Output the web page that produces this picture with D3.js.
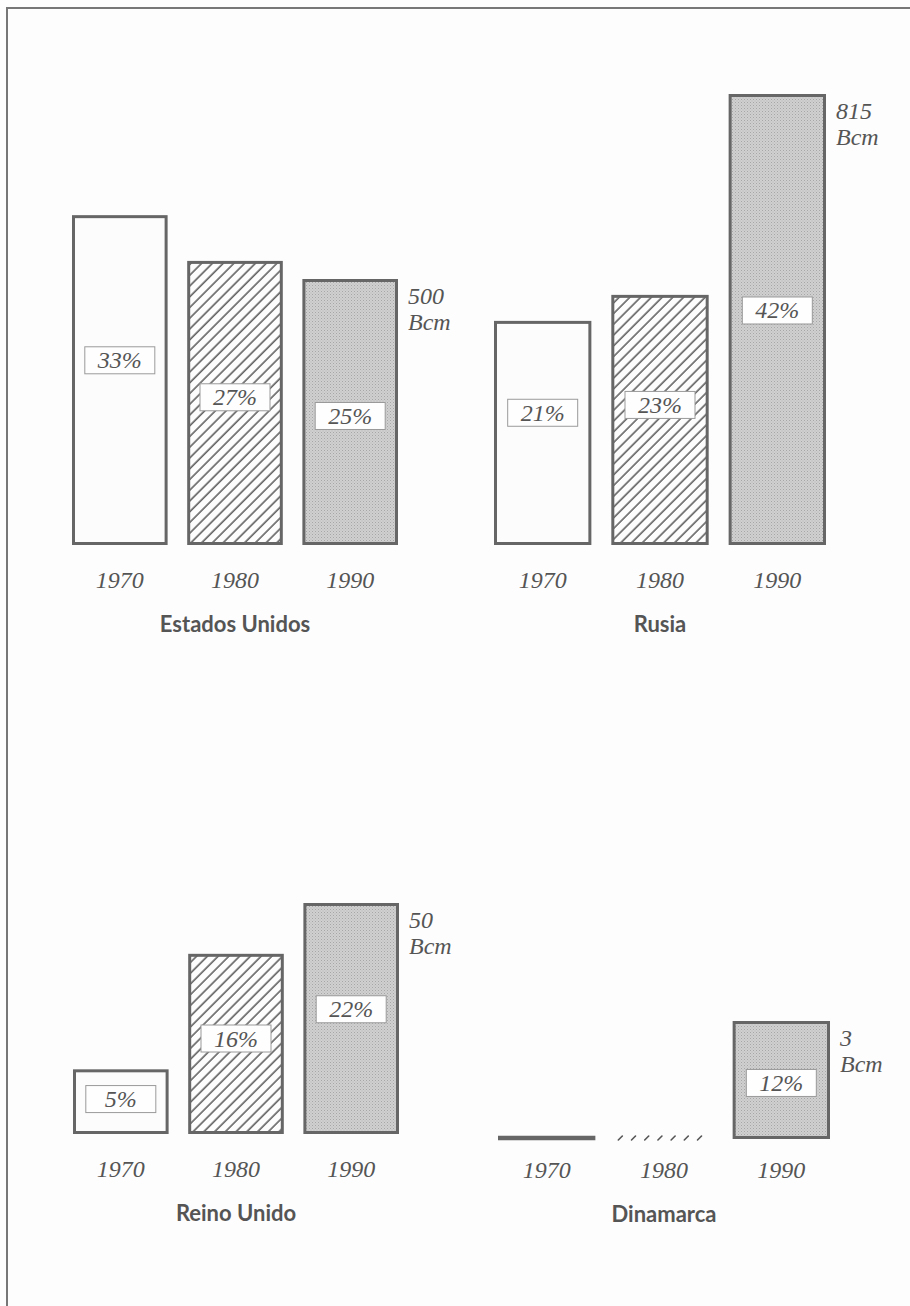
<!DOCTYPE html>
<html>
<head>
<meta charset="utf-8">
<script src="https://cdn.jsdelivr.net/npm/d3@7"></script>
<style>
  html, body { margin: 0; padding: 0; background: #fdfdfd; }
  svg { display: block; }
</style>
</head>
<body>
<svg id="chart" width="910" height="1306"></svg>
<script>
// Consumo de gas natural por país (Bcm) y participación en el consumo de energía primaria
const years = ["1970", "1980", "1990"];
const countries = ["Estados Unidos", "Rusia", "Reino Unido", "Dinamarca"];

const usaBcm        = [620, 534, 500];
const rusiaBcm      = [405, 452, 815];
const reinoUnidoBcm = [14, 39, 50];
const dinamarcaBcm  = [0, 0, 3];

const usaShare        = [33, 27, 25];
const rusiaShare      = [21, 23, 42];
const reinoUnidoShare = [5, 16, 22];
const dinamarcaShare  = [null, null, 12];

const seriesBcm = [usaBcm, rusiaBcm, reinoUnidoBcm, dinamarcaBcm];
const seriesShare = [usaShare, rusiaShare, reinoUnidoShare, dinamarcaShare];

// Panel layout: horizontal extent, bar baseline, the y reached by the 1990 value,
// and the reference line for the year / country labels
const panelLayout = [
  { x0: 72,  x1: 398, base: 545,  top: 279,  labels: 545 },
  { x0: 494, x1: 826, base: 545,  top: 94,   labels: 545 },
  { x0: 73,  x1: 399, base: 1134, top: 903,  labels: 1134 },
  { x0: 498, x1: 830, base: 1139, top: 1021, labels: 1135 }
];
// Where each percentage tag sits, as a fraction of the bar height from its top
const tagPlacement = [
  [0.44, 0.48, 0.515],
  [0.41, 0.44, 0.48],
  [0.46, 0.47, 0.46],
  [0.5, 0.5, 0.525]
];

const svg = d3.select("#chart");
const INK = "#666";
const TEXT = "#555";
const SERIF = "'Liberation Serif', 'DejaVu Serif', serif";
const SANS = "Lato, 'Open Sans', 'DejaVu Sans', sans-serif";

// Fill patterns: plain, diagonal hatch, stippled grey
const defs = svg.append("defs");
const hatch = defs.append("pattern")
  .attr("id", "hatch").attr("patternUnits", "userSpaceOnUse")
  .attr("width", 7.6).attr("height", 7.6)
  .attr("patternTransform", "rotate(45)");
hatch.append("rect").attr("width", 7.6).attr("height", 7.6).attr("fill", "#fdfdfd");
hatch.append("line").attr("x1", 2).attr("y1", 0).attr("x2", 2).attr("y2", 7.6)
  .attr("stroke", "#4a4a4a").attr("stroke-width", 1.4);

const stipple = defs.append("pattern")
  .attr("id", "stipple").attr("patternUnits", "userSpaceOnUse")
  .attr("width", 3).attr("height", 3);
stipple.append("rect").attr("width", 3).attr("height", 3).attr("fill", "#d0d0d0");
stipple.append("rect").attr("x", 0).attr("y", 0).attr("width", 1).attr("height", 1).attr("fill", "#a6a6a6");
stipple.append("rect").attr("x", 1.5).attr("y", 1.5).attr("width", 1).attr("height", 1).attr("fill", "#b6b6b6");

const fills = ["#fcfcfc", "url(#hatch)", "url(#stipple)"];

// Page frame (left and top rules)
svg.append("line").attr("x1", 7).attr("y1", 8).attr("x2", 7).attr("y2", 1306)
  .attr("stroke", "#777").attr("stroke-width", 2);
svg.append("line").attr("x1", 6).attr("y1", 8).attr("x2", 910).attr("y2", 8)
  .attr("stroke", "#777").attr("stroke-width", 2);

countries.forEach((country, ci) => {
  const L = panelLayout[ci];
  const values = seriesBcm[ci];
  const shares = seriesShare[ci];
  const data = years.map((yr, i) => ({ yr, i, value: values[i], share: shares[i] }));

  const x = d3.scaleBand().domain(years).range([L.x0, L.x1]).paddingInner(0.17);
  const y = d3.scaleLinear().domain([0, values[2]]).range([L.base, L.top]);

  const g = svg.append("g");

  // Bars; a zero value collapses onto the baseline in the series' own style
  data.forEach(d => {
    const bx = x(d.yr), bw = x.bandwidth();
    if (d.value === 0) {
      if (d.i === 1) {
        // hatched series: a row of short slashes
        const n = 7, step = 13.2;
        g.selectAll(null).data(d3.range(n)).join("line")
          .attr("x1", k => bx + 3 + k * step)
          .attr("y1", y(0) + 1)
          .attr("x2", k => bx + 3 + k * step + 4)
          .attr("y2", y(0) - 3)
          .attr("stroke", "#555").attr("stroke-width", 1.6)
          .attr("stroke-linecap", "round");
      } else {
        g.append("line")
          .attr("x1", bx).attr("x2", bx + bw)
          .attr("y1", y(0) - 1).attr("y2", y(0) - 1)
          .attr("stroke", INK).attr("stroke-width", 4.5);
      }
      return;
    }
    g.append("rect")
      .attr("x", bx + 1.5).attr("y", y(d.value) + 1.5)
      .attr("width", bw - 3).attr("height", y(0) - y(d.value) - 3)
      .attr("fill", fills[d.i])
      .attr("stroke", INK).attr("stroke-width", 3);
  });

  // Percentage tags
  data.filter(d => d.share != null && d.value > 0).forEach(d => {
    const top = y(d.value), h = y(0) - top;
    const cy = top + h * tagPlacement[ci][d.i];
    const cx = x(d.yr) + x.bandwidth() / 2;
    g.append("rect")
      .attr("x", cx - 35).attr("y", cy - 13.5)
      .attr("width", 70).attr("height", 27)
      .attr("fill", "#fefefe").attr("stroke", "#9a9a9a").attr("stroke-width", 1);
    g.append("text")
      .attr("x", cx).attr("y", cy + 8)
      .attr("text-anchor", "middle")
      .attr("font-family", SERIF).attr("font-style", "italic")
      .attr("font-size", 24).attr("fill", TEXT)
      .text(d.share + "%");
  });

  // Total for 1990 beside the last bar
  const last = data[2];
  const tx = x(last.yr) + x.bandwidth() + 10;
  const ty = y(last.value);
  const total = g.append("text")
    .attr("font-family", SERIF).attr("font-style", "italic")
    .attr("font-size", 24).attr("fill", TEXT);
  total.append("tspan").attr("x", tx).attr("y", ty + 25).text(last.value);
  total.append("tspan").attr("x", tx).attr("y", ty + 51).text("Bcm");

  // Year labels
  const axis = d3.axisBottom(x).tickSize(0).tickPadding(0);
  const ax = g.append("g").attr("transform", `translate(0,${L.labels + 43})`).call(axis);
  ax.select(".domain").remove();
  ax.selectAll("text")
    .attr("dy", 0).attr("y", 0)
    .attr("font-family", SERIF).attr("font-style", "italic")
    .attr("font-size", 24).attr("fill", TEXT);

  // Country name
  g.append("text")
    .attr("x", (L.x0 + L.x1) / 2).attr("y", L.labels + 87)
    .attr("text-anchor", "middle")
    .attr("font-family", SANS).attr("font-weight", "bold")
    .attr("font-size", 22).attr("fill", TEXT)
    .text(country);
});
</script>
</body>
</html>
